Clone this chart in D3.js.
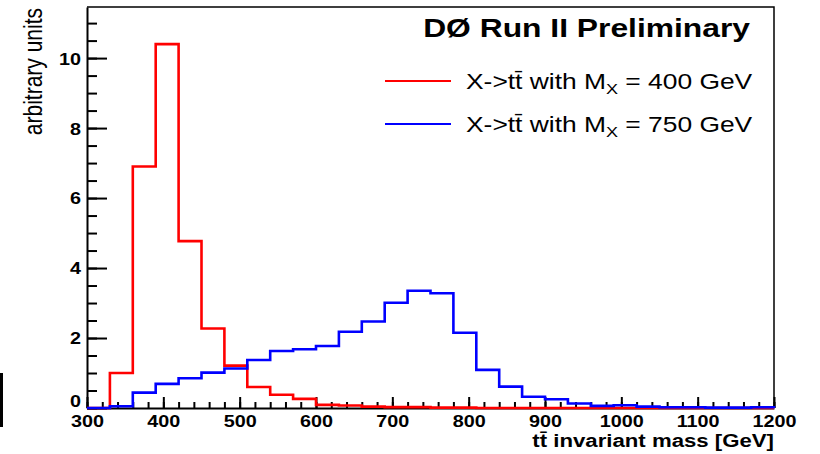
<!DOCTYPE html>
<html>
<head>
<meta charset="utf-8">
<script src="https://cdn.jsdelivr.net/npm/d3@7"></script>
<style>
  body { margin: 0; background: #fff; }
  text { font-family: "Liberation Sans", Arial, Helvetica, sans-serif; }
</style>
</head>
<body>
<script>
// bin contents, 30 GeV bins from 300 to 1200
var binStart = 300, binWidth = 30;
var red400 = [0, 1.0, 6.9, 10.4, 4.77, 2.27, 1.21, 0.6, 0.38, 0.26,
              0.09, 0.07, 0.04, 0.025, 0.025, 0.01, 0.01, 0, 0, 0,
              0, 0, 0, 0, 0, 0, 0, 0, 0, 0];
var blue750 = [0, 0.05, 0.44, 0.69, 0.85, 1.01, 1.13, 1.37, 1.63, 1.68,
               1.77, 2.18, 2.47, 3.01, 3.35, 3.28, 2.15, 1.09, 0.61, 0.32,
               0.25, 0.13, 0.06, 0.08, 0.04, 0.02, 0.02, 0.01, 0.01, 0.02];
var xTicks = [300, 400, 500, 600, 700, 800, 900, 1000, 1100, 1200];
var yTicks = [0, 2, 4, 6, 8, 10];
var legendNames = ["400", "750"];

var width = 820, height = 454;
var sx = 1.2; // picture is stretched sideways, text too

var svg = d3.select("body").append("svg")
    .attr("width", width)
    .attr("height", height);

svg.append("rect").attr("width", width).attr("height", height).attr("fill", "#fff");

var x = d3.scaleLinear().domain([300, 1200]).range([87, 774]);
var y = d3.scaleLinear().domain([0, 11.46]).range([408, 7]);

// frame top / right
svg.append("path")
    .attr("d", "M" + x(300) + "," + y(11.46) + "H" + x(1200) + "V" + y(0))
    .attr("fill", "none").attr("stroke", "#000").attr("stroke-width", 1.5);

// minor ticks
svg.append("g")
    .attr("transform", "translate(" + x(300) + ",0)")
    .call(d3.axisLeft(y).tickValues(d3.range(0, 11.01, 0.5)).tickSize(-10).tickSizeOuter(0).tickFormat(""))
    .call(function(g){ g.select(".domain").remove(); g.selectAll("line").attr("stroke-width", 2); });
svg.append("g")
    .attr("transform", "translate(0," + y(0) + ")")
    .call(d3.axisBottom(x).tickValues(d3.range(300, 1201, 20)).tickSize(-6).tickSizeOuter(0).tickFormat(""))
    .call(function(g){ g.select(".domain").remove(); g.selectAll("line").attr("stroke-width", 2); });

// major ticks + labels
var yAxis = svg.append("g")
    .attr("transform", "translate(" + x(300) + ",0)")
    .call(d3.axisLeft(y).tickValues(yTicks).tickSize(-20).tickSizeOuter(0).tickPadding(5).tickFormat(d3.format("d")));
var xAxis = svg.append("g")
    .attr("transform", "translate(0," + y(0) + ")")
    .call(d3.axisBottom(x).tickValues(xTicks).tickSize(-11).tickSizeOuter(0).tickPadding(7).tickFormat(d3.format("d")));

[yAxis, xAxis].forEach(function(g){
    g.select(".domain").attr("stroke-width", 2);
    g.selectAll("line").attr("stroke-width", 2);
    g.selectAll("text")
        .attr("font-family", "Liberation Sans, Arial, sans-serif")
        .attr("font-size", 16.5)
        .attr("font-weight", "bold")
        .attr("fill", "#000")
        .attr("transform", "scale(" + sx + ",1)");
});
yAxis.selectAll("text").attr("dy", "0.36em");
// the zero label sits a bit higher so it clears the x labels
yAxis.selectAll(".tick text").filter(function(d){ return d === 0; }).attr("y", -7);

// histograms
function histPoints(vals) {
    var pts = [[binStart, 0]];
    vals.forEach(function(v, i){ pts.push([binStart + i * binWidth, v]); });
    pts.push([binStart + vals.length * binWidth, vals[vals.length - 1]]);
    pts.push([binStart + vals.length * binWidth, 0]);
    return pts;
}
var line = d3.line()
    .x(function(d){ return x(d[0]); })
    .y(function(d){ return y(d[1]); })
    .curve(d3.curveStepAfter);

svg.append("path").datum(histPoints(red400))
    .attr("d", line).attr("fill", "none").attr("stroke", "#ff0000").attr("stroke-width", 2.6);
svg.append("path").datum(histPoints(blue750))
    .attr("d", line).attr("fill", "none").attr("stroke", "#0000ff").attr("stroke-width", 2.6);

// title
svg.append("text")
    .attr("transform", "translate(750,37) scale(" + sx + ",1)")
    .attr("text-anchor", "end")
    .attr("font-size", 26.5)
    .attr("font-weight", "bold")
    .text("DØ Run II Preliminary");

// legend
var colors = ["#ff0000", "#0000ff"];
legendNames.forEach(function(m, i){
    var ly = 81 + i * 43;
    svg.append("line")
        .attr("x1", 385).attr("x2", 451).attr("y1", ly).attr("y2", ly)
        .attr("stroke", colors[i]).attr("stroke-width", 2);
    var t = svg.append("text")
        .attr("transform", "translate(466," + (ly + 7.5) + ") scale(" + sx + ",1)")
        .attr("font-size", 22);
    t.append("tspan").text("X->tt\u0304 with M");
    t.append("tspan").attr("font-size", 15).attr("dy", 5).text("X");
    t.append("tspan").attr("dy", -5).text(" = " + m + " GeV");
});

// axis titles
svg.append("text")
    .attr("transform", "translate(774,447) scale(" + sx + ",1)")
    .attr("text-anchor", "end")
    .attr("font-size", 18.5)
    .attr("font-weight", "bold")
    .text("tt\u0304 invariant mass [GeV]");

svg.append("text")
    .attr("transform", "translate(42,8) scale(" + sx + ",1) rotate(-90)")
    .attr("text-anchor", "end")
    .attr("font-size", 21)
    .text("arbitrary units");

// black mark at far left edge
svg.append("rect").attr("x", 0).attr("y", 373).attr("width", 3).attr("height", 54).attr("fill", "#000");
</script>
</body>
</html>
